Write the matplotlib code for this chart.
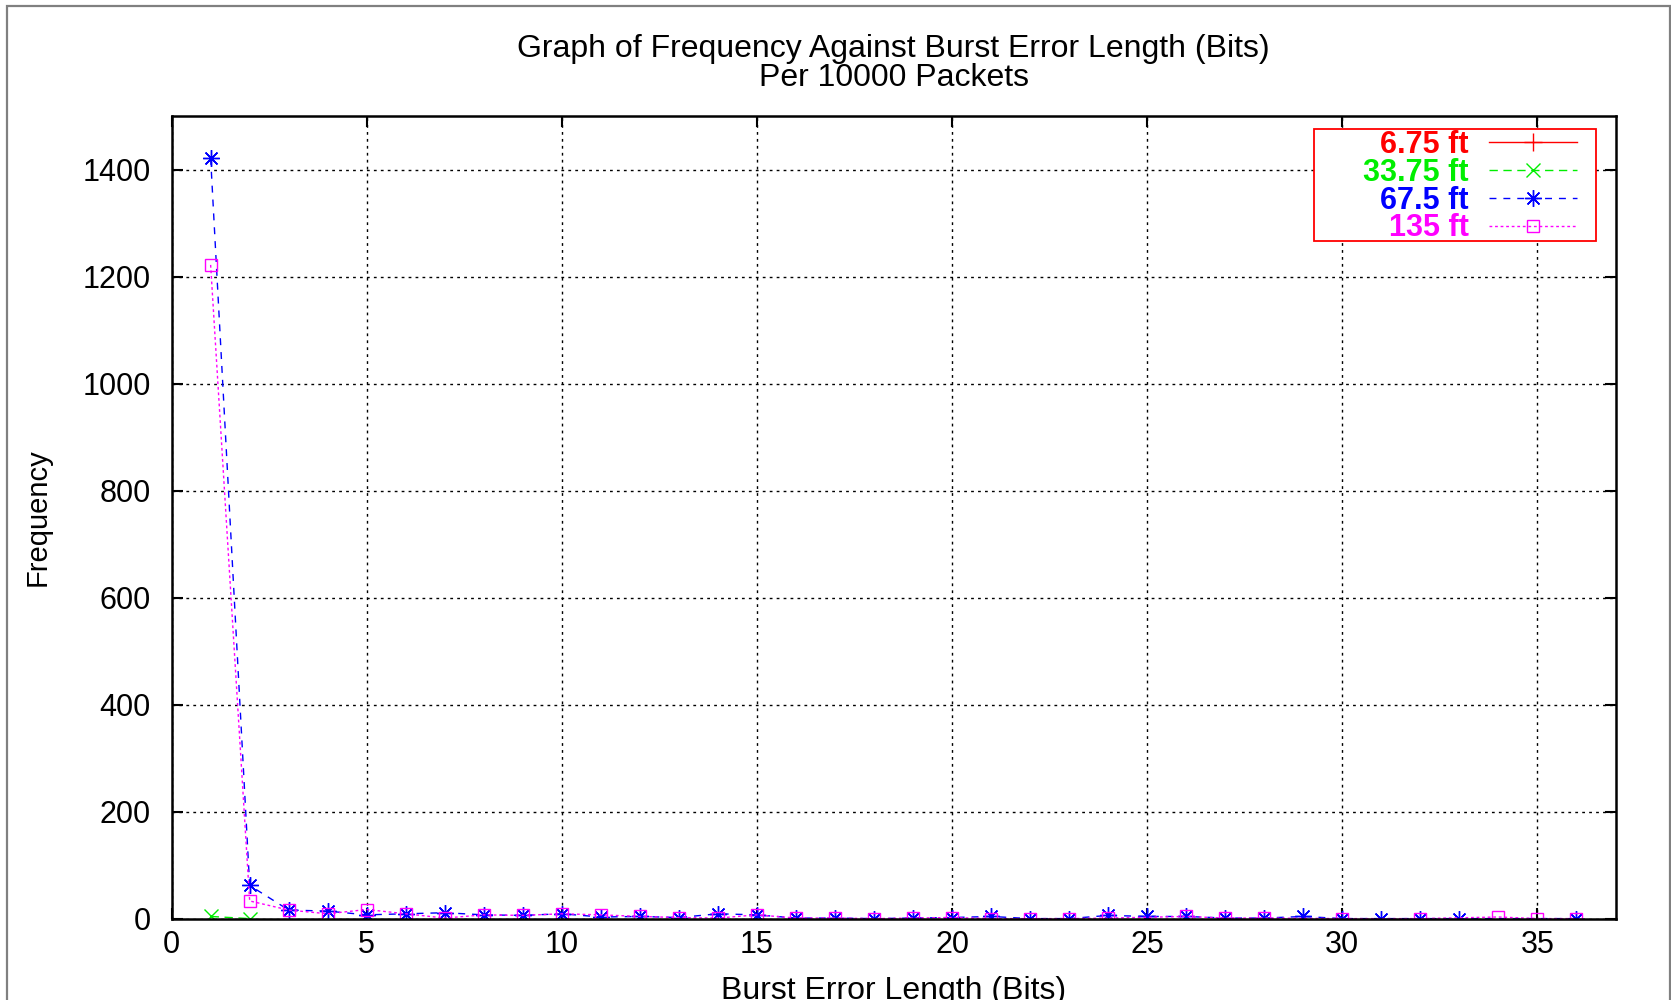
import matplotlib
matplotlib.use("Agg")
import matplotlib.pyplot as plt
from matplotlib.patches import Rectangle

plt.rcParams['font.family'] = ['Liberation Sans', 'DejaVu Sans']

# burst error length (bits) vs frequency per 10000 packets
x_675 = []
y_675 = []

x_3375 = [1, 2]
y_3375 = [4, 0]

x_675b = [1, 2, 3, 4, 5, 6, 7, 8, 9, 10, 11, 12, 13, 14, 15, 16, 17, 18,
          19, 20, 21, 22, 23, 24, 25, 26, 27, 28, 29, 30, 31, 32, 33, 36]
y_675b = [1422, 62, 16, 14, 7, 9, 11, 7, 6, 9, 3, 4, 2, 9, 7, 1, 1, 0,
          1, 2, 4, 0, 0, 6, 4, 4, 1, 1, 4, 0, 0, 0, 0, 0]

x_135 = [1, 2, 3, 4, 5, 6, 7, 8, 9, 10, 11, 12, 13, 14, 15, 16, 17, 18,
         19, 20, 21, 22, 23, 24, 26, 27, 28, 30, 32, 34, 35, 36]
y_135 = [1222, 33, 16, 9, 17, 9, 1, 7, 6, 9, 7, 4, 2, 1, 7, 1, 1, 0,
         1, 2, 0, 0, 0, 1, 4, 1, 1, 0, 0, 3, 0, 0]

fig = plt.figure(figsize=(16.71, 10), dpi=100)
ax = fig.add_axes([0.1027, 0.0814, 0.8641, 0.8024])

# gray frame around the whole picture
fig.patches.append(Rectangle((0.0042, -0.1), 0.9952, 1.094, transform=fig.transFigure,
                             fill=False, edgecolor='#808080', linewidth=1.6))

ax.plot(x_675, y_675, color='red', linestyle='-', linewidth=1.0,
        marker='+', markersize=13, markeredgewidth=1.0, label='6.75 ft')
ax.plot(x_3375, y_3375, color='#00ee00', linestyle=(0, (6, 4)), linewidth=1.0,
        marker='x', markersize=10, markeredgewidth=1.0, label='33.75 ft')
ax.plot(x_675b, y_675b, color='blue', linestyle=(0, (5, 5)), linewidth=1.0,
        marker=(8, 2, 0), markersize=12, markeredgewidth=1.0, label='67.5 ft')
ax.plot(x_135, y_135, color='magenta', linestyle=(0, (2, 2)), linewidth=1.0,
        marker='s', markersize=8, markerfacecolor='none', markeredgewidth=1.0,
        label='135 ft')

ax.set_xlim(0, 37)
ax.set_ylim(0, 1500)
ax.set_xticks(range(0, 36, 5))
ax.set_yticks(range(0, 1401, 200))
ax.grid(True, color='black', linestyle=(0, (2, 3)), linewidth=1.0)
ax.tick_params(direction='in', top=True, right=True, length=8, width=1.5,
               labelsize=22)
ax.tick_params(axis='x', pad=8)
ax.tick_params(axis='y', pad=15)
for sp in ax.spines.values():
    sp.set_linewidth(1.8)

# the reference crops this label at the bottom edge, kept as is
ax.set_xlabel('Burst Error Length (Bits)', fontsize=23, labelpad=12)
ax.set_ylabel('Frequency', fontsize=21, labelpad=22)
ax.set_title('Graph of Frequency Against Burst Error Length (Bits)\nPer 10000 Packets',
             fontsize=23, linespacing=0.93, pad=22)

# legend box (gnuplot style: text right aligned, sample on the right)
ax.add_patch(Rectangle((0.791, 0.8446), 0.1957, 0.1394, transform=ax.transAxes,
                       facecolor='white', edgecolor='red', linewidth=1.3, zorder=4))
leg = ax.legend(loc='center right', bbox_to_anchor=(0.9734, 0.9123), borderaxespad=0,
                markerfirst=False, labelcolor='linecolor', frameon=False,
                prop={'weight': 'bold', 'size': 22},
                handlelength=2.9, handletextpad=0.65, labelspacing=-0.07,
                borderpad=0, numpoints=1)
leg.set_zorder(5)

fig.savefig('out.png', dpi=100)
